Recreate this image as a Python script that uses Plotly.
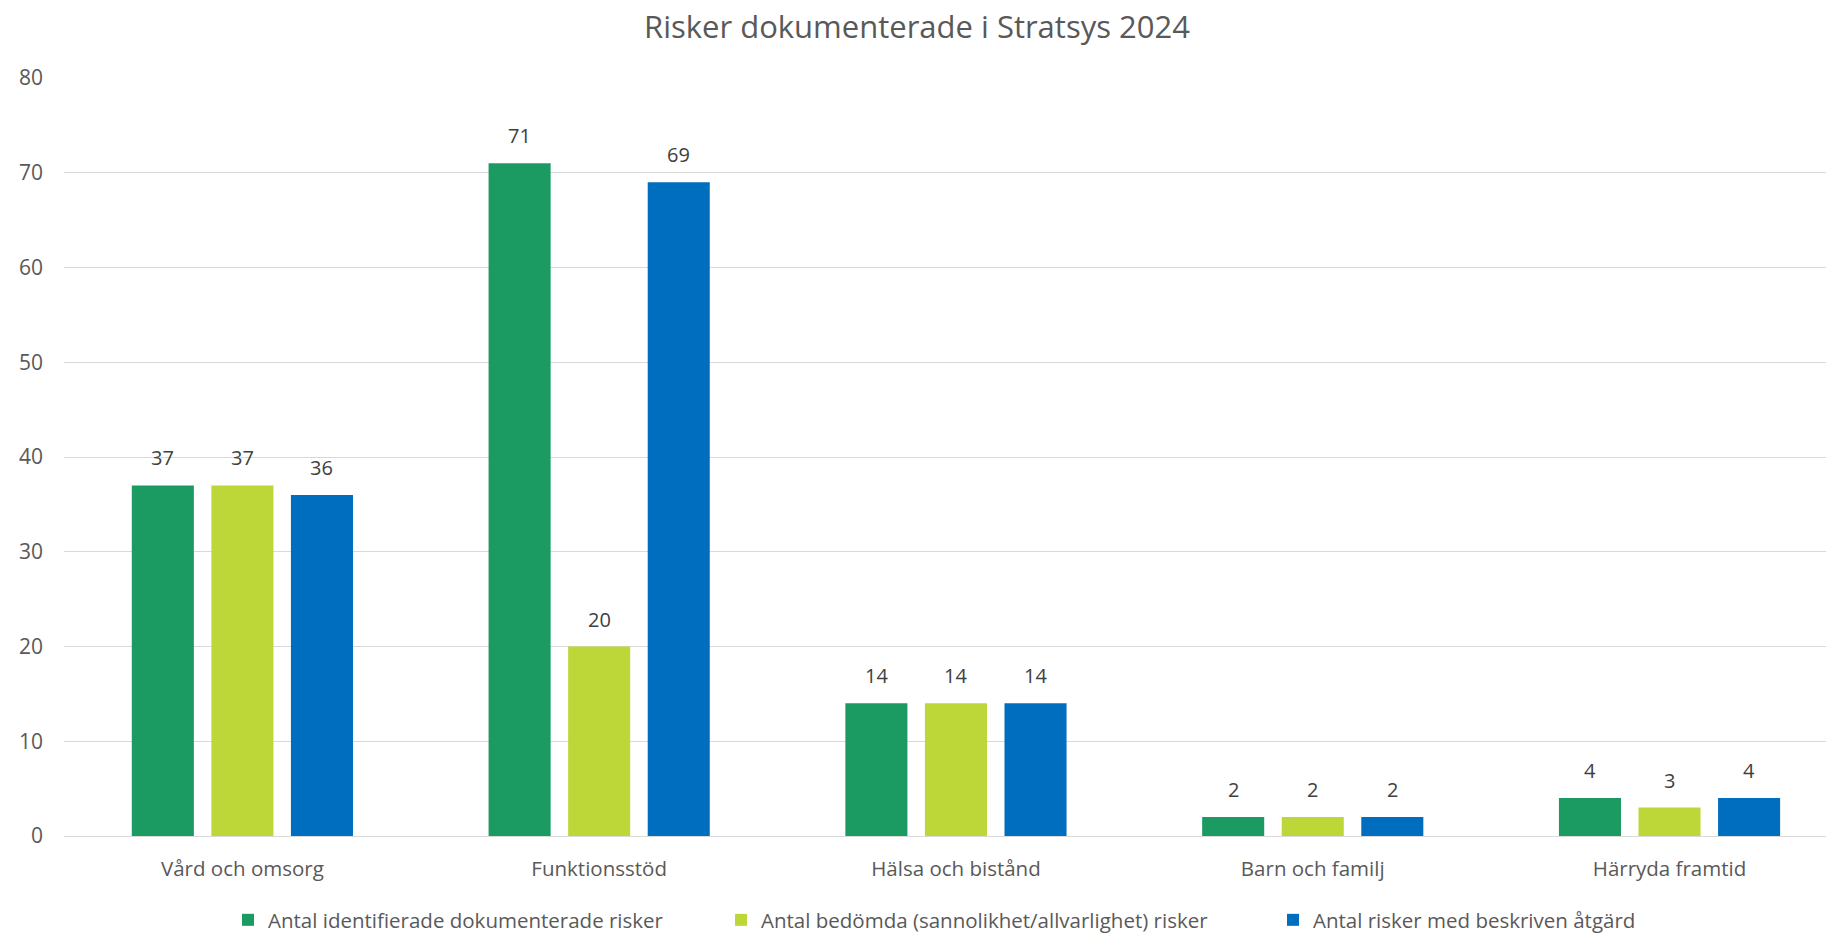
import plotly.graph_objects as go

categories = ["Vård och omsorg", "Funktionsstöd", "Hälsa och bistånd", "Barn och familj", "Härryda framtid"]
series_names = [
    "Antal identifierade dokumenterade risker",
    "Antal bedömda (sannolikhet/allvarlighet) risker",
    "Antal risker med beskriven åtgärd",
]
identified = [37, 71, 14, 2, 4]
assessed = [37, 20, 14, 2, 3]
with_action = [36, 69, 14, 2, 4]
colors = ["#1B9A62", "#BDD739", "#006EBE"]

FONT = "Open Sans"
BARGAP = 0.331
all_series = [identified, assessed, with_action]
n = len(all_series)
slot = (1 - BARGAP) / n

W, H = 1826, 934
ML, MT, MB = 56, 70, 106
plot_w = W - ML
plot_h = H - MT - MB

legend_ids = ["legend", "legend2", "legend3"]
legend_px = [220, 713, 1265]  # left edge of each legend entry (figure px)

fig = go.Figure()
for name, vals, col, lid in zip(series_names, all_series, colors, legend_ids):
    fig.add_trace(go.Bar(
        x=categories, y=vals, name=name, legend=lid,
        marker=dict(color=col, line=dict(width=0)),
    ))

# data labels
for k, vals in enumerate(all_series):
    off = (k - (n - 1) / 2) * slot
    for i, v in enumerate(vals):
        fig.add_annotation(x=i + off, y=v, xref="x", yref="y", text=str(v),
                           showarrow=False, yanchor="bottom", yshift=12,
                           font=dict(family=FONT, size=20, color="#404040"))

leg_y = (MT + plot_h - 912) / plot_h
legends = {}
for lid, px in zip(legend_ids, legend_px):
    legends[lid] = dict(orientation="h", x=(px - ML) / plot_w, xanchor="left",
                        y=leg_y, yanchor="middle", bgcolor="rgba(0,0,0,0)",
                        font=dict(family=FONT, size=20.5, color="#595959"))

fig.update_layout(
    width=W, height=H,
    paper_bgcolor="white", plot_bgcolor="white",
    margin=dict(l=ML, r=0, t=MT, b=MB),
    barmode="group", bargap=BARGAP, bargroupgap=0.22,
    title=dict(text="Risker dokumenterade i Stratsys 2024", x=(917 - 8) / W, xanchor="center",
               y=1 - 19 / H, yanchor="middle",
               font=dict(family=FONT, size=31, color="#595959")),
    font=dict(family=FONT, size=20, color="#595959"),
    showlegend=True,
    **legends,
)
fig.update_xaxes(range=[-0.5, 4.461], showgrid=False, showline=False, ticks="",
                 ticklabelstandoff=18,
                 tickfont=dict(family=FONT, size=20.5, color="#595959"))
fig.update_yaxes(range=[0, 80], dtick=10, showgrid=True, gridcolor="#D9D9D9", gridwidth=1,
                 zeroline=True, zerolinecolor="#D9D9D9", zerolinewidth=1,
                 showline=False, ticks="", ticklabelstandoff=20,
                 tickfont=dict(family=FONT, size=21, color="#595959"))

fig.write_html("out.html")
